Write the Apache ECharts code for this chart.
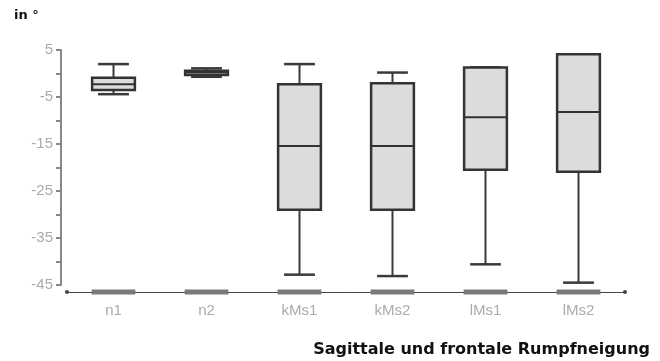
<!DOCTYPE html>
<html>
<head>
<meta charset="utf-8">
<script src="https://cdn.jsdelivr.net/npm/echarts@6/dist/echarts.min.js"></script>
<style>html,body{margin:0;padding:0;background:#fff}#c{width:660px;height:361px}</style>
</head>
<body>
<div id="c"></div>
<script>
// Categories
var categories = ['n1', 'n2', 'kMs1', 'kMs2', 'lMs1', 'lMs2'];
// Box statistics per category: [min, Q1, median, Q3, max] (degrees)
var mins    = [-4.4, -0.7, -42.8, -43.1, -40.6, -44.5];
var q1s     = [-3.5, -0.3, -29.0, -29.0, -20.5, -20.9];
var medians = [-2.3,  0.2, -15.4, -15.4,  -9.3,  -8.2];
var q3s     = [-0.9,  0.6,  -2.3,  -2.1,   1.3,   4.1];
var maxs    = [ 2.0,  1.1,   2.0,   0.2,   1.3,   4.1];
// Y tick values
var yMin = -45, yMax = 5, yStep = 5;
var baseValue = -46.5; // level of axis baseline markers

var data = categories.map(function (c, i) {
  return [i, mins[i], q1s[i], medians[i], q3s[i], maxs[i]];
});

var chart = echarts.init(document.getElementById('c'), null, {renderer: 'canvas'});

function renderItem(params, api) {
  var x = api.value(0);
  var bandW = api.size([1, 0])[0];
  var bw = bandW * 0.46;
  var cw = bw * 0.72;
  var pMin = api.coord([x, api.value(1)]);
  var pQ1 = api.coord([x, api.value(2)]);
  var pMed = api.coord([x, api.value(3)]);
  var pQ3 = api.coord([x, api.value(4)]);
  var pMax = api.coord([x, api.value(5)]);
  var pBase = api.coord([x, baseValue]);
  var cx = pMed[0];
  var lineStyle = {stroke: '#3a3a3a', lineWidth: 2, fill: null};
  return {
    type: 'group',
    children: [
      {type: 'rect', shape: {x: cx - bw / 2 - 0.5, y: pBase[1] - 2.5, width: bw + 1, height: 5},
       style: {fill: '#7a7a7a'}},
      {type: 'line', shape: {x1: cx, y1: pQ3[1], x2: cx, y2: pMax[1]}, style: lineStyle},
      {type: 'line', shape: {x1: cx, y1: pQ1[1], x2: cx, y2: pMin[1]}, style: lineStyle},
      {type: 'line', shape: {x1: cx - cw / 2, y1: pMax[1], x2: cx + cw / 2, y2: pMax[1]}, style: {stroke: '#3a3a3a', lineWidth: 2.5}},
      {type: 'line', shape: {x1: cx - cw / 2, y1: pMin[1], x2: cx + cw / 2, y2: pMin[1]}, style: {stroke: '#3a3a3a', lineWidth: 2.5}},
      {type: 'rect', shape: {x: cx - bw / 2, y: pQ3[1], width: bw, height: pQ1[1] - pQ3[1]},
       style: {fill: '#dcdcdc', stroke: '#333', lineWidth: 2.5}},
      {type: 'line', shape: {x1: cx - bw / 2, y1: pMed[1], x2: cx + bw / 2, y2: pMed[1]}, style: {stroke: '#333', lineWidth: 2}}
    ]
  };
}

chart.setOption({
  animation: false,
  grid: {left: 67, right: 35, top: 50, bottom: 76, containLabel: false},
  graphic: [
    {type: 'text', left: 14, top: 9, style: {text: 'in °', font: 'bold 13px "DejaVu Sans", Verdana, sans-serif', fill: '#111'}},
    {type: 'text', right: 10, bottom: 3, style: {text: 'Sagittale und frontale Rumpfneigung', font: 'bold 16px "DejaVu Sans", Verdana, sans-serif', fill: '#111'}}
  ],
  xAxis: {
    type: 'category',
    data: categories,
    offset: 7,
    axisLine: {show: true, onZero: false, lineStyle: {color: '#444', width: 1}, symbol: ['circle', 'circle'], symbolSize: [4, 4]},
    axisTick: {show: false},
    splitLine: {show: false},
    axisLabel: {color: '#aaa', fontSize: 15, margin: 11, fontFamily: '"Liberation Sans", Arial, sans-serif'}
  },
  yAxis: {
    type: 'value',
    min: yMin, max: yMax, interval: yStep,
    offset: 6,
    axisLine: {show: true, lineStyle: {color: '#888', width: 2}},
    axisTick: {show: true, length: 5, lineStyle: {color: '#888', width: 2}},
    splitLine: {show: false},
    axisLabel: {
      color: '#aaa', fontSize: 15, margin: 8, fontFamily: '"Liberation Sans", Arial, sans-serif',
      formatter: function (v) { return ((v - yMin) % 10 === 0) ? String(v) : ''; }
    }
  },
  series: [{
    type: 'custom',
    renderItem: renderItem,
    clip: false,
    encode: {x: 0, y: [1, 2, 3, 4, 5]},
    data: data
  }]
});
</script>
</body>
</html>
